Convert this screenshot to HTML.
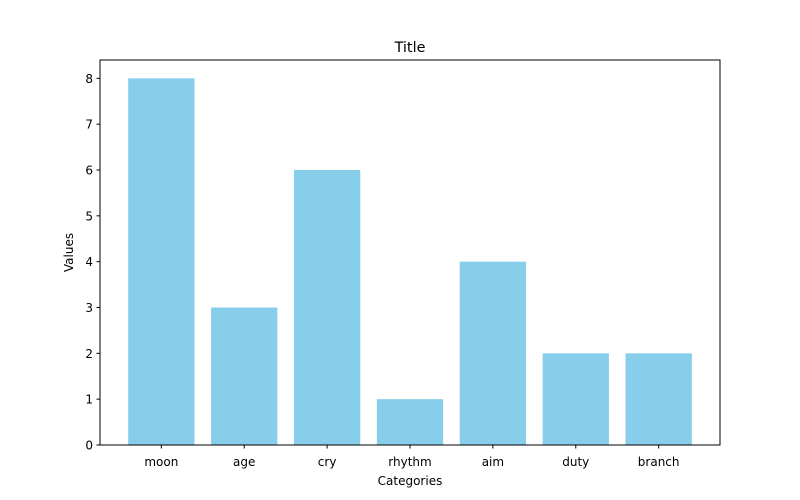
<!DOCTYPE html>
<html><head><meta charset="utf-8"><style>
html,body{margin:0;padding:0;background:#fff;}
svg{display:block;font-family:"DejaVu Sans","Liberation Sans",sans-serif;}
</style></head><body>
<svg id="chart" width="800" height="500">
<rect width="800" height="500" fill="#fff"/>
<text x="410" y="52" text-anchor="middle" font-size="14.4" fill="#000">Title</text>
<g id="bars"></g>
<g id="yticks"></g>
<g id="xticks"></g>
<rect x="100" y="60" width="620" height="385" fill="none" stroke="#000" stroke-width="1"/>
<text x="410" y="485" text-anchor="middle" font-size="12">Categories</text>
<text transform="translate(73,252.5) rotate(-90)" text-anchor="middle" font-size="12">Values</text>
</svg>
<script>
const categories = ["moon","age","cry","rhythm","aim","duty","branch"];
const values = [8,3,6,1,4,2,2];
const yTickValues = [0,1,2,3,4,5,6,7,8];

const L=100,R=720,T=60,B=445;
const yMax = Math.max(...values)*1.05;
const xMin=-0.4-0.05*(categories.length-1+0.8), xMax=categories.length-1+0.4+0.05*(categories.length-1+0.8);
const xs = v => L+(v-xMin)/(xMax-xMin)*(R-L);
const ys = v => B-v/yMax*(B-T);
const NS="http://www.w3.org/2000/svg";
const bars=document.getElementById('bars'), yt=document.getElementById('yticks'), xt=document.getElementById('xticks');
values.forEach((v,i)=>{
  const r=document.createElementNS(NS,'rect');
  r.setAttribute('x',xs(i-0.4)); r.setAttribute('width',xs(i+0.4)-xs(i-0.4));
  r.setAttribute('y',ys(v)); r.setAttribute('height',ys(0)-ys(v));
  r.setAttribute('fill','#87ceeb');
  
  
  bars.appendChild(r);
  const l=document.createElementNS(NS,'line');
  l.setAttribute('x1',xs(i));l.setAttribute('x2',xs(i));l.setAttribute('y1',B);l.setAttribute('y2',B+3.5);l.setAttribute('stroke','#000');
  
  
  xt.appendChild(l);
  const t=document.createElementNS(NS,'text');
  t.setAttribute('x',xs(i));t.setAttribute('y',B+21);t.setAttribute('text-anchor','middle');t.setAttribute('font-size','12');
  t.textContent=categories[i];
  
  
  xt.appendChild(t);
});
yTickValues.forEach(v=>{
  const l=document.createElementNS(NS,'line');
  l.setAttribute('x1',L-3.5);l.setAttribute('x2',L);l.setAttribute('y1',ys(v));l.setAttribute('y2',ys(v));l.setAttribute('stroke','#000');
  
  
  yt.appendChild(l);
  const t=document.createElementNS(NS,'text');
  t.setAttribute('x',L-7);t.setAttribute('y',ys(v)+4.5);t.setAttribute('text-anchor','end');t.setAttribute('font-size','12');
  t.textContent=v;
  
  
  yt.appendChild(t);
});
</script>
</body></html>
